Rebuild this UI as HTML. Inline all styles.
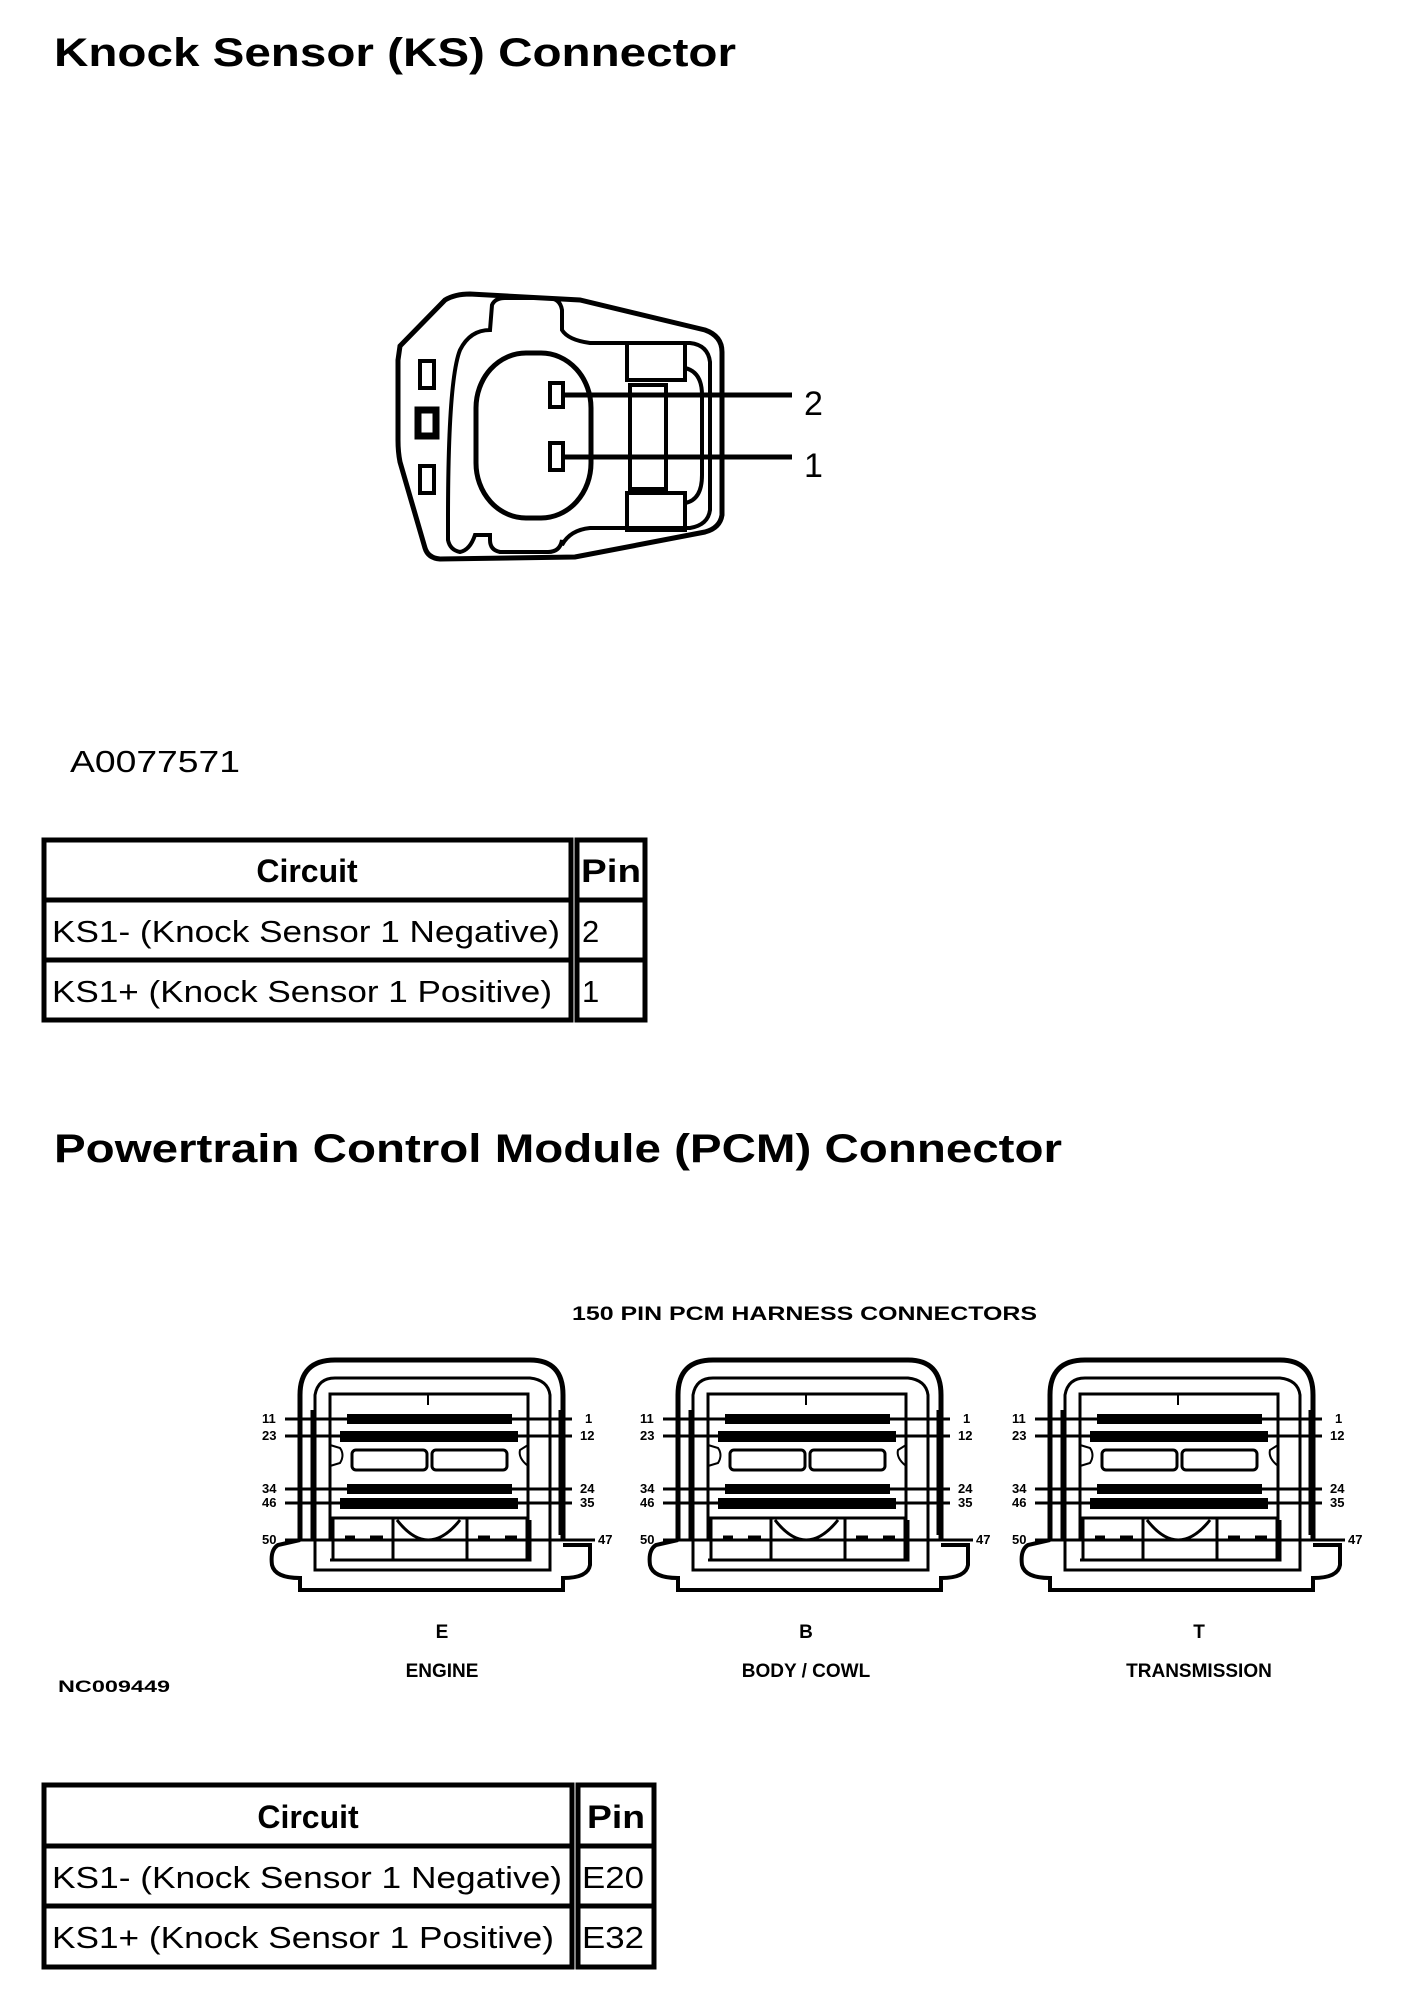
<!DOCTYPE html>
<html><head><meta charset="utf-8"><style>
html,body{margin:0;padding:0;background:#fff;width:1408px;height:2000px;overflow:hidden}
svg{display:block}
.t{font-family:"Liberation Sans",sans-serif}
</style></head><body>
<svg width="1408" height="2000" viewBox="0 0 1408 2000" xmlns="http://www.w3.org/2000/svg">
<g class="t" fill="#000">
<text x="54" y="66" font-size="40" font-weight="bold" textLength="682" lengthAdjust="spacingAndGlyphs">Knock Sensor (KS) Connector</text>
<text x="54" y="1162" font-size="40" font-weight="bold" textLength="1008" lengthAdjust="spacingAndGlyphs">Powertrain Control Module (PCM) Connector</text>
<text x="70" y="772" font-size="31" textLength="170" lengthAdjust="spacingAndGlyphs">A0077571</text>
<text x="572" y="1320" font-size="19" font-weight="bold" textLength="465" lengthAdjust="spacingAndGlyphs">150 PIN PCM HARNESS CONNECTORS</text>
<text x="58" y="1692" font-size="17" font-weight="bold" textLength="112" lengthAdjust="spacingAndGlyphs">NC009449</text>
<text x="804" y="415" font-size="34">2</text>
<text x="804" y="477" font-size="34">1</text>
</g>

<!-- KS connector -->
<g fill="none" stroke="#000" stroke-width="5">
<path d="M400,346 L445,300 Q455,294 470,294 L580,300 L705,330 Q722,336 722,352 L722,515 Q720,528 705,532 L575,557 L440,559 Q428,558 425,548 L400,462 Q398,452 398,440 L398,360 Z"/>
<path d="M448,520 Q448,380 460,350 Q470,330 490,330 L492,305 Q495,298 505,298 L548,298 Q560,298 562,310 L562,330 Q568,340 590,343 L690,343 Q708,345 710,362 L710,510 Q708,525 690,528 L590,528 Q570,530 562,545 L562,540 Q560,552 548,552 L500,552 Q490,550 490,540 L490,535 L475,535 Q470,550 460,552 Q450,550 448,540 Z" stroke-width="4"/>
<rect x="476" y="353" width="115" height="165" rx="50" ry="55"/>
<rect x="550" y="383" width="13" height="24" stroke-width="4"/>
<rect x="550" y="443" width="13" height="27" stroke-width="4"/>
<rect x="627" y="343" width="58" height="37" stroke-width="4"/>
<rect x="627" y="493" width="58" height="37" stroke-width="4"/>
<rect x="630" y="385" width="36" height="104" stroke-width="4"/>
<path d="M685,368 Q702,372 702,395 L702,475 Q702,500 685,503" stroke-width="4"/>
<rect x="420" y="361" width="14" height="27" stroke-width="4"/>
<rect x="418" y="410" width="18" height="26" stroke-width="7"/>
<rect x="420" y="466" width="14" height="27" stroke-width="4"/>
<line x1="563" y1="395" x2="792" y2="395"/>
<line x1="563" y1="457" x2="792" y2="457"/>
</g>

<!-- Table 1 -->
<g fill="none" stroke="#000" stroke-width="5">
<rect x="44" y="840" width="527" height="180"/>
<rect x="577" y="840" width="68" height="180"/>
<line x1="44" y1="900" x2="571" y2="900"/><line x1="577" y1="900" x2="645" y2="900"/>
<line x1="44" y1="960" x2="571" y2="960"/><line x1="577" y1="960" x2="645" y2="960"/>
</g>
<g class="t" fill="#000" font-size="31">
<text x="307" y="882" text-anchor="middle" font-weight="bold" font-size="32">Circuit</text>
<text x="581" y="882" font-weight="bold" font-size="32" textLength="60" lengthAdjust="spacingAndGlyphs">Pin</text>
<text x="52" y="942" textLength="508" lengthAdjust="spacingAndGlyphs">KS1- (Knock Sensor 1 Negative)</text>
<text x="582" y="942">2</text>
<text x="52" y="1002" textLength="500" lengthAdjust="spacingAndGlyphs">KS1+ (Knock Sensor 1 Positive)</text>
<text x="582" y="1002">1</text>
</g>

<!-- Table 2 -->
<g fill="none" stroke="#000" stroke-width="5">
<rect x="44" y="1785" width="528" height="182"/>
<rect x="578" y="1785" width="76" height="182"/>
<line x1="44" y1="1846" x2="572" y2="1846"/><line x1="578" y1="1846" x2="654" y2="1846"/>
<line x1="44" y1="1906" x2="572" y2="1906"/><line x1="578" y1="1906" x2="654" y2="1906"/>
</g>
<g class="t" fill="#000" font-size="31">
<text x="308" y="1828" text-anchor="middle" font-weight="bold" font-size="32">Circuit</text>
<text x="587" y="1828" font-weight="bold" font-size="32" textLength="58" lengthAdjust="spacingAndGlyphs">Pin</text>
<text x="52" y="1888" textLength="510" lengthAdjust="spacingAndGlyphs">KS1- (Knock Sensor 1 Negative)</text>
<text x="582" y="1888" textLength="62" lengthAdjust="spacingAndGlyphs">E20</text>
<text x="52" y="1948" textLength="502" lengthAdjust="spacingAndGlyphs">KS1+ (Knock Sensor 1 Positive)</text>
<text x="582" y="1948" textLength="62" lengthAdjust="spacingAndGlyphs">E32</text>
</g>

<defs>
<g id="pcm">
<g fill="none" stroke="#000">
<path d="M300,1540 L300,1395 Q300,1360 335,1360 L530,1360 Q563,1360 563,1395 L563,1540" stroke-width="5"/>
<path d="M300,1540 L278,1545 Q270,1550 272,1565 Q275,1578 300,1578 L300,1590 L563,1590 L563,1578 Q588,1578 590,1565 L590,1545 L563,1545" stroke-width="4"/>
<path d="M315,1570 L315,1395 Q318,1378 335,1378 L530,1378 Q548,1380 550,1395 L550,1570 L315,1570 Z" stroke-width="3"/>
<path d="M330,1540 L330,1394 L528,1394 L528,1540 M330,1560 L330,1560 L530,1560 L530,1520" stroke-width="3"/>
<path d="M330,1445 L340,1448 Q345,1455 340,1463 L330,1466" stroke-width="2"/>
<path d="M528,1445 L520,1450 Q518,1458 528,1466" stroke-width="2"/>
<path d="M428,1394 L428,1405" stroke-width="2"/>
<rect x="352" y="1450" width="75" height="20" rx="4" stroke-width="3"/>
<rect x="432" y="1450" width="75" height="20" rx="4" stroke-width="3"/>
<rect x="333" y="1518" width="60" height="42" stroke-width="3"/>
<rect x="467" y="1518" width="60" height="42" stroke-width="3"/>
<path d="M397,1520 Q428,1560 460,1520 M393,1518 L467,1518" stroke-width="3"/>
<path d="M345,1537 L355,1537 M370,1537 L383,1537 M478,1537 L490,1537 M505,1537 L517,1537" stroke-width="3"/>
<line x1="285" y1="1419" x2="572" y2="1419" stroke-width="3"/>
<line x1="285" y1="1436" x2="572" y2="1436" stroke-width="3"/>
<line x1="285" y1="1489" x2="572" y2="1489" stroke-width="3"/>
<line x1="285" y1="1503" x2="572" y2="1503" stroke-width="3"/>
<line x1="285" y1="1540" x2="595" y2="1540" stroke-width="3"/>
<line x1="312" y1="1410" x2="312" y2="1540" stroke-width="3"/>
<line x1="560" y1="1410" x2="560" y2="1535" stroke-width="3"/>
</g>
<rect x="347" y="1414" width="165" height="10" fill="#000"/>
<rect x="340" y="1431" width="178" height="11" fill="#000"/>
<rect x="347" y="1484" width="165" height="10" fill="#000"/>
<rect x="340" y="1498" width="178" height="11" fill="#000"/>
<g class="t" fill="#000" font-size="13" font-weight="bold">
<text x="262" y="1423">11</text><text x="262" y="1440">23</text><text x="262" y="1493">34</text><text x="262" y="1507">46</text><text x="262" y="1544">50</text>
<text x="585" y="1423">1</text><text x="580" y="1440">12</text><text x="580" y="1493">24</text><text x="580" y="1507">35</text><text x="598" y="1544">47</text>
</g>
</g>
</defs>
<use href="#pcm"/>
<use href="#pcm" transform="translate(378,0)"/>
<use href="#pcm" transform="translate(750,0)"/>
<g class="t" fill="#000" font-size="19" font-weight="bold" text-anchor="middle">
<text x="442" y="1638">E</text><text x="442" y="1677">ENGINE</text>
<text x="806" y="1638">B</text><text x="806" y="1677">BODY / COWL</text>
<text x="1199" y="1638">T</text><text x="1199" y="1677">TRANSMISSION</text>
</g>
</svg>
</body></html>
